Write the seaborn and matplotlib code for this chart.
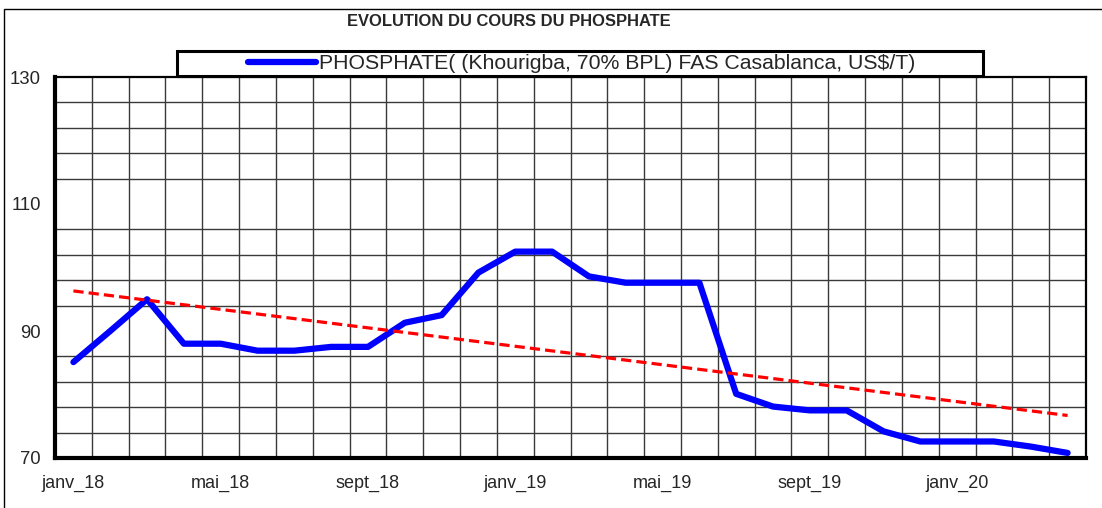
import numpy as np
import pandas as pd
import matplotlib
matplotlib.use("Agg")
import matplotlib.pyplot as plt
from matplotlib.patches import Rectangle
import seaborn as sns

# Cours mensuel du phosphate (US$/T), janv_18 -> avr_20
mois = ['janv_18', 'févr_18', 'mars_18', 'avr_18', 'mai_18', 'juin_18', 'juil_18', 'août_18',
        'sept_18', 'oct_18', 'nov_18', 'déc_18', 'janv_19', 'févr_19', 'mars_19', 'avr_19',
        'mai_19', 'juin_19', 'juil_19', 'août_19', 'sept_19', 'oct_19', 'nov_19', 'déc_19',
        'janv_20', 'févr_20', 'mars_20', 'avr_20']
cours = [85.1, 90.0, 95.0, 88.0, 88.0, 86.9, 86.9, 87.5, 87.5, 91.3, 92.5, 99.2, 102.5, 102.5,
         98.6, 97.6, 97.6, 97.6, 80.1, 78.1, 77.5, 77.5, 74.2, 72.6, 72.6, 72.6, 71.8, 70.8]
serie_label = 'PHOSPHATE( (Khourigba, 70% BPL) FAS Casablanca, US$/T)'
titre = 'EVOLUTION DU COURS DU PHOSPHATE'
y_labels = [70, 90, 110, 130]

df = pd.DataFrame({'idx': np.arange(len(mois)), 'mois': mois, 'cours': cours})

sns.set_style('white')
plt.rcParams['font.family'] = ['Liberation Sans', 'DejaVu Sans']

W, H = 1102, 508
fig = plt.figure(figsize=(W / 100, H / 100), dpi=100)
ax = fig.add_axes([55 / W, 1 - 458 / H, (1086 - 55) / W, (458 - 77) / H])

sns.lineplot(data=df, x='idx', y='cours', ax=ax, color='#0000FF', linewidth=4.5,
             label=serie_label, zorder=3, solid_capstyle='round', solid_joinstyle='round')
sns.regplot(data=df, x='idx', y='cours', ax=ax, scatter=False, ci=None,
            line_kws=dict(color='#FF0000', linewidth=2.3, dashes=(3.2, 1.6), zorder=4))

ax.set_xlim(-0.5, len(mois) - 0.5)
ax.set_ylim(70, 130)

# grille : limites de catégories en x, pas de 4 en y
ax.set_xticks(np.arange(-0.5, len(mois), 1), minor=True)
ax.set_xticks(df['idx'][::4], df['mois'][::4])
ax.set_yticks(np.arange(70, 131, 4), minor=True)
ax.set_yticks(y_labels, [str(v) for v in y_labels])
ax.grid(which='minor', color='#3a3a3a', linewidth=1.0)
ax.grid(which='major', visible=False)
ax.set_axisbelow(True)

ax.tick_params(axis='x', which='major', length=0, labelsize=13, pad=12)
ax.tick_params(axis='x', which='minor', direction='in', length=4, width=2, color='black')
ax.tick_params(axis='y', which='major', direction='in', length=4, width=2, color='black',
               labelsize=13.3, pad=10)
ax.tick_params(axis='y', which='minor', length=0)
ax.set_xlabel('')
ax.set_ylabel('')

for side, lw in [('left', 3.0), ('bottom', 3.0), ('right', 1.6), ('top', 1.6)]:
    ax.spines[side].set_visible(True)
    ax.spines[side].set_color('black')
    ax.spines[side].set_linewidth(lw)

# légende dans un cadre posé sur le haut du graphique
ax.add_patch(Rectangle((177 / W, 1 - 76 / H), (983 - 177) / W, 25 / H,
                       transform=fig.transFigure, facecolor='white', edgecolor='black',
                       linewidth=2.2, clip_on=False, zorder=4))
leg = ax.legend(loc='center', bbox_to_anchor=(582 / W, 1 - 63.5 / H),
                bbox_transform=fig.transFigure, frameon=False, fontsize=15.3,
                handlelength=3.2, handletextpad=0.14, borderpad=0)
leg.set_zorder(6)

fig.text(509 / W, 1 - 22 / H, titre, ha='center', va='center', fontsize=11.9,
         fontweight='bold')

# cadre extérieur
fig.patches.append(Rectangle((4 / W, -0.1), 2, 1.1 - 9.5 / H, transform=fig.transFigure,
                             fill=False, edgecolor='black', linewidth=1.0, zorder=0))

fig.savefig('out.png', dpi=100)
